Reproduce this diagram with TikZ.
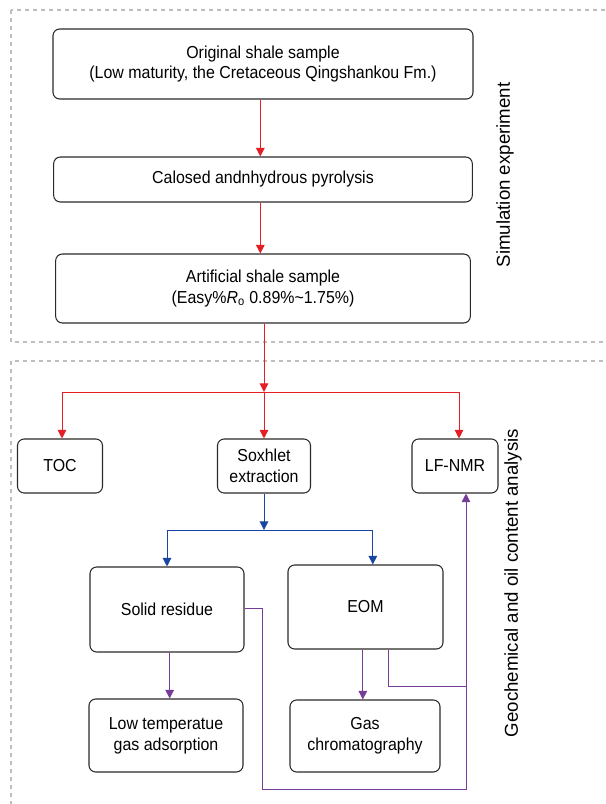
\documentclass[tikz,border=0pt]{standalone}
\usepackage{fontspec}
\setmainfont{Liberation Sans}[FakeStretch=0.92]
\newfontfamily\sidefont{Liberation Sans}
\usepackage{xcolor}
\usepackage{tikz}
\usetikzlibrary{arrows.meta}

\definecolor{flowred}{RGB}{228,30,36}
\definecolor{flowblue}{RGB}{24,70,160}
\definecolor{flowpurple}{RGB}{118,60,152}
\definecolor{framegray}{RGB}{190,190,190}
\definecolor{boxedge}{RGB}{45,40,40}

\begin{document}
\begin{tikzpicture}[x=0.75pt,y=-0.75pt,
		box/.style={draw=boxedge,line width=0.8pt,rounded corners=5pt,align=center,inner sep=0pt,font=\fontsize{13}{15.5}\selectfont},
		frame/.style={draw=framegray,line width=0.8pt,dash pattern=on 3pt off 3pt},
		side/.style={rotate=90,font=\sidefont\fontsize{14}{16}\selectfont},
		link/.style={line width=0.75pt,-{Triangle[width=6.5pt,length=6.5pt]}},
		wire/.style={line width=0.75pt}]
			\useasboundingbox (0,0) rectangle (606,804);
			\draw[frame] (11,10) rectangle (612,342);
			\draw[frame] (11,361) rectangle (612,812);
			\node[side] (simlabel) at (505,175) {Simulation experiment};
			\node[side] (geolabel) at (513,583) {Geochemical and oil content analysis};
			\node[box,minimum width=315pt,minimum height=52.5pt] (orig) at (263,64) {Original shale sample\\(Low maturity, the Cretaceous Qingshankou Fm.)};
			\node[box,minimum width=314pt,minimum height=33.75pt] (pyro) at (263,179.5) {Calosed andnhydrous pyrolysis};
			\node[box,minimum width=311pt,minimum height=51.75pt] (art) at (263,288.5) {Artificial shale sample\\(Easy\%\textit{R}\textsubscript{o} 0.89\%\textasciitilde1.75\%)};
			\node[box,minimum width=63.75pt,minimum height=40.5pt] (toc) at (60,466) {TOC};
			\node[box,minimum width=69.75pt,minimum height=40.5pt] (sox) at (264,466) {Soxhlet\\extraction};
			\node[box,minimum width=64.5pt,minimum height=40.5pt] (nmr) at (455,466) {LF-NMR};
			\node[box,minimum width=115.5pt,minimum height=63.75pt] (solid) at (167,609.5) {Solid residue};
			\node[box,minimum width=116.25pt,minimum height=63pt] (eom) at (365.5,607) {EOM};
			\node[box,minimum width=115.5pt,minimum height=54.75pt] (lowt) at (166,735.5) {Low temperatue\\gas adsorption};
			\node[box,minimum width=112.5pt,minimum height=54pt] (gc) at (365,736) {Gas\\chromatography};
			\coordinate (redsplit) at (264,392);
			\coordinate (bluesplit) at (264,530);
			\coordinate (nmrjoin) at (466,686);
			\coordinate (solidbend) at (262,608);
			\coordinate (solidlow) at (262,789);
			\draw[link,flowred] ([xshift=-2pt]orig.south) -- ([xshift=-2pt]pyro.north);
			\draw[link,flowred] ([xshift=-2pt]pyro.south) -- ([xshift=-2pt]art.north);
			\draw[link,flowred] (art.south -| redsplit) -- (redsplit);
			\draw[link,flowred] (redsplit) -| ([xshift=1.5pt]toc.north);
			\draw[link,flowred] (redsplit) -- (sox.north -| redsplit);
			\draw[link,flowred] (redsplit) -| ([xshift=3pt]nmr.north);
			\draw[link,flowblue] (sox.south -| bluesplit) -- (bluesplit);
			\draw[link,flowblue] (bluesplit) -| (solid.north);
			\draw[link,flowblue] (bluesplit) -| ([xshift=5.5pt]eom.north);
			\draw[link,flowpurple] ([xshift=2pt]solid.south) -- ([xshift=2pt]solid.south |- lowt.north);
			\draw[link,flowpurple] ([xshift=-2pt]eom.south) -- ([xshift=-2pt]eom.south |- gc.north);
			\draw[wire,flowpurple] ([xshift=17pt]eom.south) |- (nmrjoin);
			\draw[wire,flowpurple] (solid.east |- solidbend) -- (solidbend) -- (solidlow) -| (nmrjoin);
			\draw[link,flowpurple] (nmrjoin) -- (nmr.south -| nmrjoin);
		\end{tikzpicture}
\end{document}
